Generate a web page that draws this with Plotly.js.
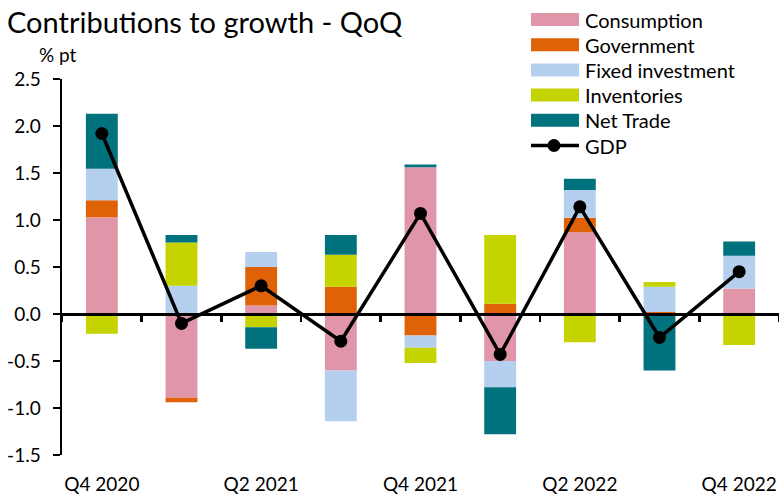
<!DOCTYPE html>
<html><head><meta charset="utf-8">
<script src="https://cdn.plot.ly/plotly-3.0.1.min.js"></script>
<style>html,body{margin:0;padding:0;background:#fff}#chart{width:779px;height:495px}</style>
</head><body><div id="chart"></div>
<script>
// ---- data ----
const quarters = ["Q4 2020","Q1 2021","Q2 2021","Q3 2021","Q4 2021","Q1 2022","Q2 2022","Q3 2022","Q4 2022"];
const consumption     = [1.03, -0.89, 0.09, -0.60, 1.56, -0.50, 0.87, 0.00, 0.27];
const government      = [0.18, -0.05, 0.41, 0.29, -0.23, 0.11, 0.155, 0.02, 0.00];
const fixedInvestment = [0.335, 0.30, 0.16, -0.54, -0.13, -0.28, 0.295, 0.27, 0.35];
const inventories     = [-0.21, 0.46, -0.14, 0.34, -0.16, 0.73, -0.30, 0.05, -0.33];
const netTrade        = [0.585, 0.08, -0.23, 0.21, 0.03, -0.50, 0.12, -0.60, 0.15];
const gdp             = [1.92, -0.10, 0.30, -0.29, 1.07, -0.43, 1.14, -0.25, 0.45];
const seriesNames = ["Consumption","Government","Fixed investment","Inventories","Net Trade"];
const lineName = "GDP";
const yTickVals = [-1.5,-1.0,-0.5,0.0,0.5,1.0,1.5,2.0,2.5];
const xTickLabels = ["Q4 2020","Q2 2021","Q4 2021","Q2 2022","Q4 2022"];
const titleText = "Contributions to growth - QoQ";
const unitText = "% pt";

// ---- style ----
const colors = ["#E195A9","#E06207","#B5D0EE","#C5D300","#00727E"];
const FONT = "Lato, 'Open Sans', sans-serif";
const seriesData = [consumption, government, fixedInvestment, inventories, netTrade];

const traces = seriesData.map((vals, i) => ({
  type: "bar", name: seriesNames[i], x: quarters, y: vals,
  marker: {color: colors[i], line: {width: 0}}, width: 0.4,
  xaxis: "x", yaxis: "y", showlegend: false, hoverinfo: "skip"
}));
traces.push({
  type: "scatter", mode: "lines+markers", name: lineName, x: quarters, y: gdp,
  line: {color: "#000", width: 3.5}, marker: {color: "#000", size: 13},
  xaxis: "x2", yaxis: "y", showlegend: false
});

// plot area in px: left 62, right 779, top 79, bottom 455
const L = 62, R = 779, T = 79, B = 455;
const px = v => (v - L) / (R - L);
const py = v => (B - v) / (B - T);

const shapes = [], annotations = [];
const legX0 = 531, legX1 = 579, legTextX = 583, legY0 = 19.5, legStep = 25.2, legH = 13;
seriesNames.forEach((n, i) => {
  const cy = legY0 + i * legStep;
  shapes.push({type: "rect", xref: "paper", yref: "paper", x0: px(legX0), x1: px(legX1),
    y0: py(cy - legH/2), y1: py(cy + legH/2), fillcolor: colors[i], line: {width: 0}});
  annotations.push({xref: "paper", yref: "paper", x: px(legTextX), y: py(cy), text: n,
    showarrow: false, xanchor: "left", yanchor: "middle", font: {family: FONT, size: 20, color: "#000"}});
});
{
  const cy = legY0 + 5 * legStep;
  shapes.push({type: "line", xref: "paper", yref: "paper", x0: px(legX0), x1: px(legX1),
    y0: py(cy), y1: py(cy), line: {color: "#000", width: 3.5}});
  shapes.push({type: "circle", xref: "paper", yref: "paper", x0: px(554 - 6.5), x1: px(554 + 6.5),
    y0: py(cy - 6.5), y1: py(cy + 6.5), fillcolor: "#000", line: {width: 0}});
  annotations.push({xref: "paper", yref: "paper", x: px(legTextX), y: py(cy), text: lineName,
    showarrow: false, xanchor: "left", yanchor: "middle", font: {family: FONT, size: 20, color: "#000"}});
}
annotations.push({xref: "paper", yref: "paper", x: px(58), y: py(54), text: unitText,
  showarrow: false, xanchor: "center", yanchor: "middle", font: {family: FONT, size: 19, color: "#000"}});

const layout = {
  width: 779, height: 495,
  margin: {l: L, r: 779 - R, t: T, b: 495 - B, pad: 0},
  paper_bgcolor: "#fff", plot_bgcolor: "#fff",
  barmode: "relative", bargap: 0.6,
  font: {family: FONT, size: 19, color: "#000"},
  title: {text: titleText, xref: "container", yref: "container", x: 7/779, xanchor: "left",
    y: 1 - 23/495, yanchor: "middle", font: {family: FONT, size: 29, color: "#000"}},
  xaxis: {type: "category", categoryorder: "array", categoryarray: quarters, range: [-0.5, 8.5],
    tickmode: "array", tickvals: xTickLabels, ticktext: xTickLabels,
    showline: false, ticks: "", showgrid: false, zeroline: false, ticklabelstandoff: 16,
    tickfont: {family: FONT, size: 19, color: "#000"}, fixedrange: true},
  xaxis2: {type: "category", categoryorder: "array", categoryarray: quarters, range: [-0.5, 8.5],
    overlaying: "x", anchor: "free", position: 1.5/4, side: "bottom",
    tickson: "boundaries", ticks: "outside", ticklen: 6, tickwidth: 2.5, tickcolor: "#000",
    showline: true, linecolor: "#000", linewidth: 2.5, showticklabels: false,
    showgrid: false, zeroline: false, fixedrange: true},
  yaxis: {range: [-1.5, 2.5], tickmode: "array", tickvals: yTickVals,
    ticktext: yTickVals.map(v => v.toFixed(1)),
    showline: true, linecolor: "#000", linewidth: 2.5, ticks: "outside", ticklen: 7, tickwidth: 2.5,
    tickcolor: "#000", showgrid: false, zeroline: false, ticklabelstandoff: 8,
    tickfont: {family: FONT, size: 19, color: "#000"}, fixedrange: true},
  shapes: shapes, annotations: annotations, showlegend: false
};

Plotly.newPlot("chart", traces, layout, {displayModeBar: false, staticPlot: true});
</script></body></html>
